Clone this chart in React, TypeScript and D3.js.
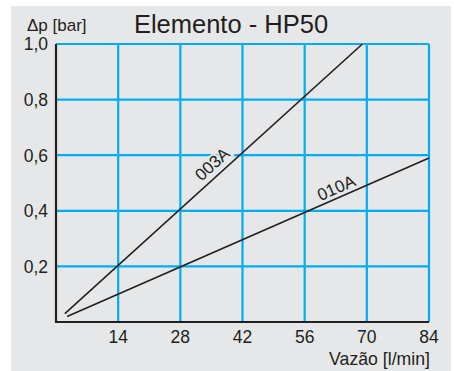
import * as React from 'react';
import * as d3 from 'd3';

// flow values (l/min) and pressure drop (bar)
const xTicks = [14, 28, 42, 56, 70, 84];
const yTicks = [0.2, 0.4, 0.6, 0.8, 1.0];
const series003A: [number, number][] = [[2, 0.03], [69, 1.0]];
const series010A: [number, number][] = [[2.5, 0.02], [84, 0.59]];
const seriesNames = ['003A', '010A'];
const labelAt = [37, 64];
const labelDy = [-6, -4];

const W = 454;
const H = 371;
const bg = '#e6e7e8';
const blue = '#00aeef';
const ink = '#231f20';
const font = '"Liberation Sans", Arial, Helvetica, sans-serif';

const App: React.FunctionComponent = () => {
    const ref = React.useRef<SVGSVGElement>(null);

    React.useEffect(() => {
        if (!ref.current) {
            return;
        }
        const svg = d3.select(ref.current);
        svg.selectAll('*').remove();

        const x = d3.scaleLinear().domain([0, 84]).range([56, 429]);
        const y = d3.scaleLinear().domain([0, 1]).range([322, 44]);

        svg.append('rect')
            .attr('x', 11).attr('y', 6)
            .attr('width', 440).attr('height', H - 6)
            .attr('fill', bg);

        // grid
        svg.append('g').selectAll('line')
            .data(xTicks)
            .join('line')
            .attr('x1', d => x(d)).attr('x2', d => x(d))
            .attr('y1', y(1)).attr('y2', y(0))
            .attr('stroke', blue).attr('stroke-width', 2.2);
        svg.append('g').selectAll('line')
            .data(yTicks)
            .join('line')
            .attr('x1', x(0)).attr('x2', x(84))
            .attr('y1', d => y(d)).attr('y2', d => y(d))
            .attr('stroke', blue).attr('stroke-width', 2.2);

        // axes
        svg.append('line')
            .attr('x1', x(0)).attr('x2', x(0))
            .attr('y1', y(1)).attr('y2', y(0) + 1)
            .attr('stroke', ink).attr('stroke-width', 2.2);
        svg.append('line')
            .attr('x1', x(0) - 1).attr('x2', x(84))
            .attr('y1', y(0)).attr('y2', y(0))
            .attr('stroke', ink).attr('stroke-width', 2.2);

        // tick labels
        const fmt = (v: number) => v.toFixed(1).replace('.', ',');
        svg.append('g').selectAll('text')
            .data(yTicks)
            .join('text')
            .attr('x', 48).attr('y', d => y(d))
            .attr('dy', '0.36em')
            .attr('text-anchor', 'end')
            .attr('font-family', font).attr('font-size', 17.5)
            .attr('fill', ink)
            .text(fmt);
        svg.append('g').selectAll('text')
            .data(xTicks)
            .join('text')
            .attr('x', d => x(d)).attr('y', 343)
            .attr('text-anchor', 'middle')
            .attr('font-family', font).attr('font-size', 17.5)
            .attr('fill', ink)
            .text(d => String(d));

        // titles
        svg.append('text')
            .attr('x', 231).attr('y', 33)
            .attr('text-anchor', 'middle')
            .attr('font-family', font).attr('font-size', 25.5)
            .attr('fill', ink)
            .text('Elemento - HP50');
        svg.append('text')
            .attr('x', 27).attr('y', 31)
            .attr('font-family', font).attr('font-size', 17)
            .attr('fill', ink)
            .text('\u0394p [bar]');
        svg.append('text')
            .attr('x', 430).attr('y', 365)
            .attr('text-anchor', 'end')
            .attr('font-family', font).attr('font-size', 17.7)
            .attr('fill', ink)
            .text('Vazão [l/min]');

        // curves
        const line = d3.line<[number, number]>().x(d => x(d[0])).y(d => y(d[1]));
        const all = [series003A, series010A];
        svg.append('g').selectAll('path')
            .data(all)
            .join('path')
            .attr('d', d => line(d))
            .attr('fill', 'none')
            .attr('stroke', ink).attr('stroke-width', 1.6);

        all.forEach((s, i) => {
            const [p0, p1] = s;
            const t = (labelAt[i] - p0[0]) / (p1[0] - p0[0]);
            const vy = p0[1] + t * (p1[1] - p0[1]);
            const ang = Math.atan2(y(p1[1]) - y(p0[1]), x(p1[0]) - x(p0[0])) * 180 / Math.PI;
            svg.append('text')
                .attr('transform', `translate(${x(labelAt[i])},${y(vy)}) rotate(${ang})`)
                .attr('dy', labelDy[i])
                .attr('text-anchor', 'middle')
                .attr('font-family', font).attr('font-size', 17)
                .attr('fill', ink)
                .attr('stroke', bg).attr('stroke-width', 4)
                .attr('paint-order', 'stroke')
                .text(seriesNames[i]);
        });
    });

    return <svg ref={ref} width={W} height={H}
        style={{ position: 'absolute', left: 0, top: 0, background: '#fff' }} />;
};

export default App;
